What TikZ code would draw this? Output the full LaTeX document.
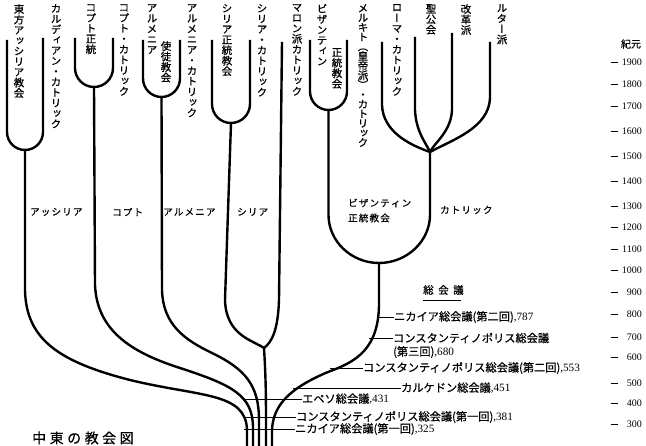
\documentclass[tikz,border=0pt]{standalone}
\usepackage{fontspec}
\setmainfont{Liberation Serif}
\newfontfamily\jp[FakeBold=0.6]{Noto Sans CJK JP}
\newfontfamily\jpv[RawFeature=+vert,FakeBold=0.8]{Noto Sans CJK JP}
\ExplSyntaxOn
\NewDocumentCommand\vtext{O{1em}m}{
  \vbox{
    \baselineskip=#1\relax
    \lineskiplimit=-\maxdimen
    \tl_map_inline:nn {#2} { \hbox_to_wd:nn {1em} { \hss ##1 \hss } }
  }
}
\NewDocumentCommand\sptext{mm}{
  \tl_map_inline:nn {#2} { ##1 \hspace{#1} }
}
\ExplSyntaxOff
\begin{document}
\begin{tikzpicture}[x=1pt,y=-1pt,
  br/.style={line width=2.4pt, line join=round},
  tk/.style={line width=0.9pt},
  vlab/.style={anchor=north, inner sep=0pt, font=\jpv\fontsize{10.5}{10.5}\selectfont},
  mlab/.style={anchor=west, inner sep=0pt, font=\jp\fontsize{9.5}{11}\selectfont},
  clab/.style={anchor=west, inner sep=0pt, font=\jp\fontsize{11.2}{13}\selectfont},
  yr/.style={anchor=east, inner sep=0pt, font=\fontsize{10}{12}\selectfont},
  ydash/.style={inner sep=0pt}
]
\useasboundingbox (0,0) rectangle (646,446);

% ---------- top labels ----------
\node[vlab] (lEA) at (19,4) {\vtext{東方アッシリア教会}};
\node[vlab] (lCA) at (56,4) {\vtext{カルディアン・カトリック}};
\node[vlab] (lCO) at (91,4) {\vtext{コプト正統}};
\node[vlab] (lCC) at (124,4) {\vtext{コプト・カトリック}};
\node[vlab] (lAR1) at (152,4) {\vtext{アルメニア}};
\node[vlab] (lAR2) at (166,41) {\vtext{使徒教会}};
\node[vlab] (lAC) at (192,4) {\vtext{アルメニア・カトリック}};
\node[vlab] (lSO) at (227,4) {\vtext{シリア正統教会}};
\node[vlab] (lSC) at (262,4) {\vtext{シリア・カトリック}};
\node[vlab] (lMA) at (297,4) {\vtext{マロン派カトリック}};
\node[vlab] (lBY1) at (322,4) {\vtext{ビザンティン}};
\node[vlab] (lBY2) at (337,48) {\vtext{正統教会}};
\node[vlab] (lME) at (363,4) {\vtext[9.6pt]{メルキト（皇帝派）・カトリック}};
\node[vlab] (lRC) at (397,4) {\vtext{ローマ・カトリック}};
\node[vlab] (lAN) at (431,4) {\vtext{聖公会}};
\node[vlab] (lRE) at (466,4) {\vtext{改革派}};
\node[vlab] (lLU) at (502,4) {\vtext{ルター派}};

% ---------- coordinates ----------
\coordinate (tEA) at (7,40);    \coordinate (tCA) at (43,38);   \coordinate (jA) at (25,150);
\coordinate (tCO) at (75,38);   \coordinate (tCC) at (113,38);  \coordinate (jCo) at (94,87);
\coordinate (tAR) at (143,40);  \coordinate (tAC) at (180,40);  \coordinate (jAr) at (161.5,97);
\coordinate (tSO) at (212,40);  \coordinate (tSC) at (250,40);  \coordinate (jSy) at (231,123);
\coordinate (tMA) at (282,42);  \coordinate (jSM) at (264,348);
\coordinate (tBY) at (310,40);  \coordinate (tME) at (347,40);  \coordinate (jBy) at (328.5,110);
\coordinate (tRC) at (382,42);  \coordinate (tAN) at (415,37);  \coordinate (tRE) at (452,33);
\coordinate (tLU) at (490,42);  \coordinate (jCa) at (430,152);
\coordinate (jBC) at (379,263);
\coordinate (bA) at (247,446);  \coordinate (bCo) at (253,446); \coordinate (bAr) at (259,446);
\coordinate (bSM) at (266,446); \coordinate (bBC) at (272,446);

% ---------- U shapes ----------
\draw[br] (tEA) -- (7,132) .. controls (7,142) and (15,150) .. (jA);
\draw[br] (tCA) -- (43,132) .. controls (43,142) and (35,150) .. (jA);
\draw[br] (tCO) -- (75,68) .. controls (75,78.5) and (83.5,87) .. (jCo);
\draw[br] (tCC) -- (113,68) .. controls (113,78.5) and (104.5,87) .. (jCo);
\draw[br] (tAR) -- (143,78.5) .. controls (143,88.7) and (151.3,97) .. (jAr);
\draw[br] (tAC) -- (180,78.5) .. controls (180,88.7) and (171.7,97) .. (jAr);
\draw[br] (tSO) -- (212,104) .. controls (212,114.5) and (220.5,123) .. (jSy);
\draw[br] (tSC) -- (250,104) .. controls (250,114.5) and (241.5,123) .. (jSy);
\draw[br] (tBY) -- (310,91.5) .. controls (310,101.7) and (318.3,110) .. (jBy);
\draw[br] (tME) -- (347,91.5) .. controls (347,101.7) and (338.7,110) .. (jBy);
% catholic fan
\draw[br] (tRC) -- (382,105) .. controls (383,132) and (410,145) .. (jCa);
\draw[br] (tAN) -- (415,110) .. controls (416,132) and (426,143) .. (jCa);
\draw[br] (tRE) -- (452,110) .. controls (451,132) and (434,143) .. (jCa);
\draw[br] (tLU) -- (490,98) .. controls (489,128) and (452,140) .. (jCa);
% big U
\draw[br] (jBy) -- (328.5,215) .. controls (328.5,241) and (351,263) .. (jBC);
\draw[br] (jCa) -- (430,215) .. controls (430,241) and (407,263) .. (jBC);

% ---------- trunks ----------
\draw[br] (jA) -- (25,290) .. controls (26,340) and (60,362) .. (130,380)
  .. controls (200,397) and (246,392) .. (247,430) -- (bA);
\draw[br] (jCo) -- (95,285) .. controls (97,330) and (130,352) .. (180,368)
  .. controls (232,385) and (253,395) .. (253,428) -- (bCo);
\draw[br] (jAr) -- (162,290) .. controls (163,325) and (185,340) .. (212,353)
  .. controls (245,369) and (259,385) .. (259,420) -- (bAr);
\draw[br] (jSy) -- (225,300) .. controls (226,335) and (252,340) .. (jSM);
\draw[br] (tMA) -- (279,300) .. controls (278,330) and (272,342) .. (jSM);
\draw[br] (jSM) .. controls (266,380) and (266,400) .. (266,430) -- (bSM);
\draw[br] (jBC) -- (379,300) .. controls (380,350) and (355,362) .. (328,372)
  .. controls (290,388) and (273,405) .. (272,430) -- (bBC);

% ---------- middle labels ----------
\node[mlab] (mA) at (30,212) {\sptext{1.2pt}{アッシリア}};
\node[mlab] (mCo) at (112,212) {\sptext{1.2pt}{コプト}};
\node[mlab] (mAr) at (163,212) {\sptext{1.2pt}{アルメニア}};
\node[mlab] (mSy) at (237,212) {\sptext{1.2pt}{シリア}};
\node[mlab] (mBy1) at (348,203) {\sptext{1.2pt}{ビザンティン}};
\node[mlab] (mBy2) at (348,218) {\sptext{1.2pt}{正統教会}};
\node[mlab] (mCa) at (440,210) {\sptext{1.2pt}{カトリック}};

% ---------- councils ----------
\node[anchor=west, inner sep=0pt, font=\jp\fontsize{10.5}{12}\selectfont] (hd) at (423,290) {\sptext{4.5pt}{総会議}};
\coordinate (u1) at (423,300); \coordinate (u2) at (461,300);
\draw[line width=0.8pt] (u1) -- (u2);

\node[clab] (c787) at (394,317) {ニカイア総会議(第二回)\rmfamily,787};
\node[clab] (c680) at (393,338) {コンスタンティノポリス総会議};
\node[clab] (c680b) at (393,352) {(第三回)\rmfamily,680};
\node[clab] (c553) at (363,368) {コンスタンティノポリス総会議(第二回)\rmfamily,553};
\node[clab] (c451) at (401,388) {カルケドン総会議\rmfamily,451};
\node[clab] (c431) at (302,399) {エペソ総会議\rmfamily,431};
\node[clab] (c381) at (296,417) {コンスタンティノポリス総会議(第一回)\rmfamily,381};
\node[clab] (c325) at (295,429) {ニカイア総会議(第一回)\rmfamily,325};

\coordinate (k787) at (379,317);
\coordinate (k680) at (369,338);
\coordinate (k553) at (330,368);
\coordinate (k451) at (293,388);
\coordinate (k431) at (244,399);
\coordinate (k381) at (244,417);
\coordinate (k325) at (244,429);
\draw[tk] (k787) -- (c787.west);
\draw[tk] (k680) -- (c680.west);
\draw[line width=0.7pt] (k553) -- (c553.west);
\draw[tk] (k451) -- (c451.west);
\draw[tk] (k431) -- (c431.west);
\draw[tk] (k381) -- (c381.west);
\draw[tk] (k325) -- (c325.west);

% ---------- title ----------
\node[anchor=west, inner sep=0pt, font=\jp\fontsize{14}{16}\selectfont] (title) at (32,438) {\sptext{3.5pt}{中東の教会図}};

% ---------- scale ----------
\node[inner sep=0pt, font=\jp\fontsize{10}{12}\selectfont] (era) at (631,44) {紀元};
\foreach \yv/\lab in {62/1900,84/1800,106/1700,131/1600,156/1500,181/1400,206/1300,227/1200,249/1100,270/1000,292/900,314/800,337/700,357/600,383/500,403/400,424/300}{
  \node[ydash] (d\lab) at (614,\yv) {\rule{7pt}{0.9pt}};
  \node[yr] (y\lab) at (642,\yv) {\lab};
}
\end{tikzpicture}
\end{document}
